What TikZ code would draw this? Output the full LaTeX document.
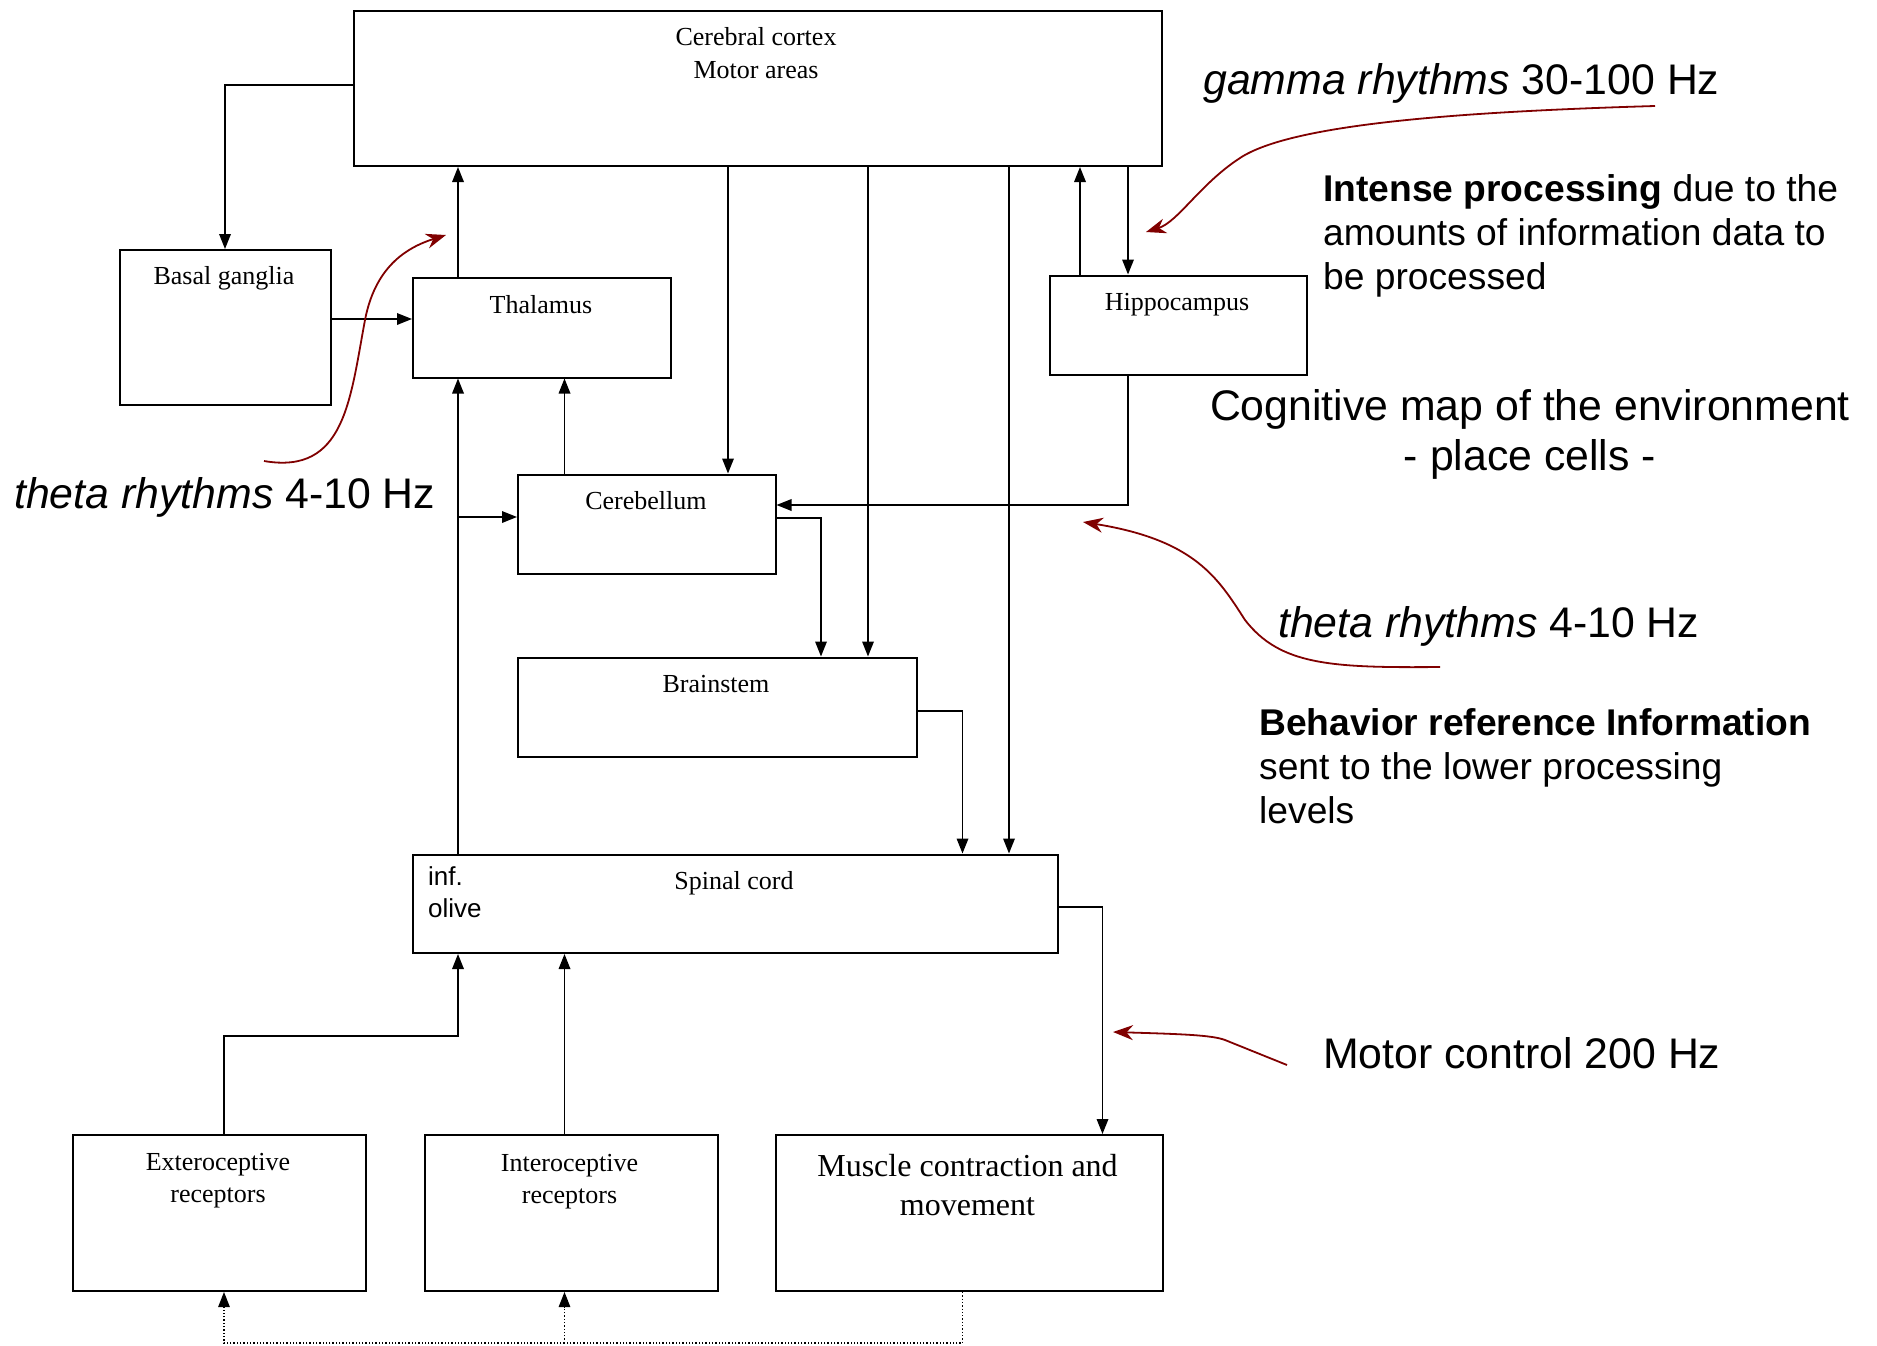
\documentclass[tikz,border=0pt]{standalone}
\usepackage{fontspec}
\setmainfont{Liberation Serif}
\setsansfont{Liberation Sans}
\usetikzlibrary{arrows.meta}
\definecolor{annot}{RGB}{128,0,0}
\begin{document}
\begin{tikzpicture}[x=1pt,y=-1pt,
  box/.style={draw, line width=2pt, inner sep=0pt, anchor=north west},
  wire/.style={line width=1.8pt},
  arr/.style={wire, -{Triangle[length=15pt,width=11.5pt]}},
  dotwire/.style={line width=1.3pt, dotted, -{Triangle[length=15pt,width=11.5pt]}},
  note/.style={annot, line width=1.8pt, -{Stealth[length=20pt,width=15pt]}},
  boxtxt/.style={font=\fontsize{26}{32}\selectfont, anchor=base, inner sep=0pt},
  bigtxt/.style={font=\fontsize{32}{39}\selectfont, anchor=base, inner sep=0pt},
  smallsans/.style={font=\sffamily\fontsize{26}{32}\selectfont, anchor=base west, inner sep=0pt},
  remark/.style={font=\sffamily\fontsize{42.8}{50}\selectfont, inner sep=0pt},
  remarkS/.style={font=\sffamily\fontsize{37.2}{44}\selectfont, inner sep=0pt, align=left, anchor=base west}]
\useasboundingbox (0,0) rectangle (1877,1346);

% ---- blocks ----
\node[box, minimum width=808pt,   minimum height=155pt] (cortex) at (353,10) {};
\node[box, minimum width=211pt,   minimum height=155pt] (basal)  at (118.5,249) {};
\node[box, minimum width=257.5pt, minimum height=100pt] (thal)   at (412,276.5) {};
\node[box, minimum width=257.5pt, minimum height=99pt]  (cereb)  at (517,473.5) {};
\node[box, minimum width=257.5pt, minimum height=99pt]  (hippo)  at (1048.5,274.5) {};
\node[box, minimum width=399pt,   minimum height=99pt]  (brain)  at (517,656.5) {};
\node[box, minimum width=645pt,   minimum height=98.5pt](spinal) at (412,853.5) {};
\node[box, minimum width=293pt,   minimum height=156pt] (extero) at (72,1134) {};
\node[box, minimum width=293pt,   minimum height=156pt] (intero) at (424,1134) {};
\node[box, minimum width=387.5pt, minimum height=156pt] (muscle) at (774.5,1134) {};

% ---- block titles ----
\node[boxtxt] (cortexA) at (756,46) {Cerebral cortex};
\node[boxtxt] (cortexB) at (756,78) {Motor areas};
\node[boxtxt] (basalT)  at (224,284) {Basal ganglia};
\node[boxtxt] (thalT)   at (541,313) {Thalamus};
\node[boxtxt] (cerebT)  at (646,509) {Cerebellum};
\node[boxtxt] (hippoT)  at (1177,310) {Hippocampus};
\node[boxtxt] (brainT)  at (716,692) {Brainstem};
\node[boxtxt] (spinalT) at (734,889) {Spinal cord};
\node[smallsans] (infT)   at (428,885) {inf.};
\node[smallsans] (oliveT) at (428,917) {olive};
\node[boxtxt] (exteroA) at (218,1170) {Exteroceptive};
\node[boxtxt] (exteroB) at (218,1202) {receptors};
\node[boxtxt] (interoA) at (569.5,1171) {Interoceptive};
\node[boxtxt] (interoB) at (569.5,1203) {receptors};
\node[bigtxt] (muscleA) at (967.5,1176) {Muscle contraction and};
\node[bigtxt] (muscleB) at (967.5,1215) {movement};

% ---- wiring columns and rows ----
\coordinate (cBG) at (224,0);
\coordinate (cA) at (458,0);
\coordinate (cB) at (564.5,0);
\coordinate (cC) at (728,0);
\coordinate (cD) at (821,0);
\coordinate (cE) at (868,0);
\coordinate (cF) at (962.5,0);
\coordinate (cG) at (1009,0);
\coordinate (cH) at (1080,0);
\coordinate (cI) at (1128,0);
\coordinate (cJ) at (1102.5,0);
\coordinate (rBG) at (0,85);
\coordinate (rBT) at (0,319);
\coordinate (rHC) at (0,505);
\coordinate (rCL) at (0,517);
\coordinate (rCO) at (0,518);
\coordinate (rBO) at (0,711);
\coordinate (rSO) at (0,907);
\coordinate (rEX) at (0,1036);
\coordinate (rDot) at (0,1343);

% ---- connections ----
\draw[arr] (cortex.west |- rBG) -| (basal.north);
\draw[arr] (basal.east |- rBT) -- (thal.west |- rBT);
\draw[arr] (thal.north -| cA) -- (cortex.south -| cA);
\draw[arr] (spinal.north -| cA) -- (thal.south -| cA);
\draw[arr] (cA |- rCL) -- (cereb.west |- rCL);
\draw[arr] (cereb.north -| cB) -- (thal.south -| cB);
\draw[arr] (cortex.south -| cC) -- (cereb.north -| cC);
\draw[arr] (cereb.east |- rCO) -| (brain.north -| cD);
\draw[arr] (cortex.south -| cE) -- (brain.north -| cE);
\draw[arr] (brain.east |- rBO) -| (spinal.north -| cF);
\draw[arr] (cortex.south -| cG) -- (spinal.north -| cG);
\draw[arr] (hippo.north -| cH) -- (cortex.south -| cH);
\draw[arr] (cortex.south -| cI) -- (hippo.north -| cI);
\draw[arr] (hippo.south -| cI) |- (cereb.east |- rHC);
\draw[arr] (spinal.east |- rSO) -| (muscle.north -| cJ);
\draw[arr] (intero.north -| cB) -- (spinal.south -| cB);
\draw[arr] (extero.north -| cBG) |- (cA |- rEX) -- (spinal.south -| cA);
\draw[dotwire] (muscle.south -| cF) |- (cBG |- rDot) -- (extero.south -| cBG);
\draw[dotwire] (cB |- rDot) -- (intero.south -| cB);

% ---- annotations (multi-line blocks are placed by their last baseline) ----
\node[remark, anchor=base west] (gammaT) at (1203,94) {\textit{gamma rhythms} 30-100 Hz};
\node[remarkS] (intenseT) at (1323,289.5) {\textbf{Intense processing} due to the\\amounts of information data to\\be processed};
\node[remark, align=center, anchor=base] (cogT) at (1530,470) {Cognitive map of the environment\\- place cells -};
\node[remark, anchor=base west] (thetaL) at (14,508) {\textit{theta rhythms} 4-10 Hz};
\node[remark, anchor=base west] (thetaR) at (1278,637) {\textit{theta rhythms} 4-10 Hz};
\node[remarkS] (behavT) at (1259,823) {\textbf{Behavior reference Information}\\sent to the lower processing\\levels};
\node[remark, anchor=base west] (motorT) at (1323,1068) {Motor control 200 Hz};

\coordinate (gS) at (1655,106);
\coordinate (gE) at (1146,232);
\coordinate (tLS) at (264,461);
\coordinate (tLE) at (446,235);
\coordinate (tRS) at (1440,667);
\coordinate (tRE) at (1083,522);
\coordinate (mS) at (1287,1065);
\coordinate (mE) at (1113,1032);

\draw[note] (gS) .. controls (1450,112) and (1290,125) .. (1240,158)
            .. controls (1200,184) and (1178,222) .. (gE);
\draw[note] (tLS) .. controls (345,475) and (350,400) .. (365,320)
            .. controls (375,268) and (405,248) .. (tLE);
\draw[note] (tRS) .. controls (1330,668) and (1280,665) .. (1245,620)
            .. controls (1218,578) and (1195,540) .. (tRE);
\draw[note] (mS) -- (1225,1040) .. controls (1212,1035) and (1180,1034) .. (mE);
\end{tikzpicture}
\end{document}
